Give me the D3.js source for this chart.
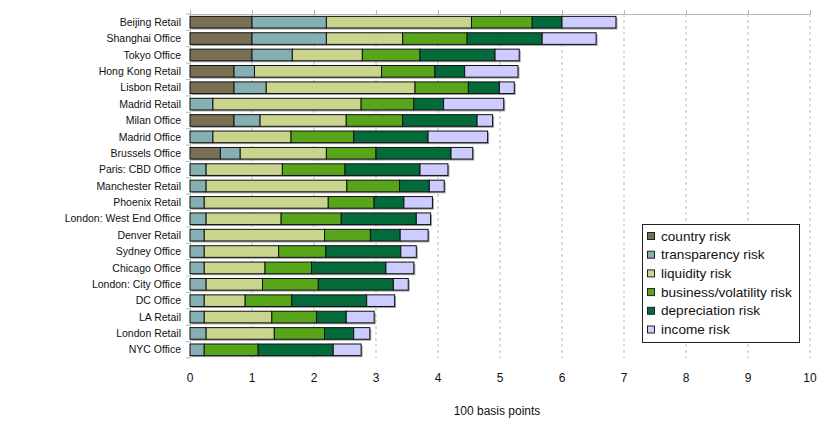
<!DOCTYPE html>
<html>
<head>
<meta charset="utf-8">
<script src="https://cdn.jsdelivr.net/npm/d3@7"></script>
<style>
  html, body { margin: 0; padding: 0; background: #fff; }
  svg { display: block; font-family: "Liberation Sans", Arial, sans-serif; }
</style>
</head>
<body>
<svg id="chart" width="819" height="424"></svg>
<script>
// Property markets, top to bottom
const markets = [
  "Beijing Retail", "Shanghai Office", "Tokyo Office", "Hong Kong Retail",
  "Lisbon Retail", "Madrid Retail", "Milan Office", "Madrid Office",
  "Brussels Office", "Paris: CBD Office", "Manchester Retail", "Phoenix Retail",
  "London: West End Office", "Denver Retail", "Sydney Office", "Chicago Office",
  "London: City Office", "DC Office", "LA Retail", "London Retail", "NYC Office"
];

// Risk components (in units of 100 basis points), one array per component
const countryRisk      = [1.00, 1.00, 1.00, 0.71, 0.71, 0.00, 0.71, 0.00, 0.49, 0.00, 0.00, 0.00, 0.00, 0.00, 0.00, 0.00, 0.00, 0.00, 0.00, 0.00, 0.00];
const transparencyRisk = [1.20, 1.20, 0.65, 0.33, 0.52, 0.37, 0.42, 0.37, 0.32, 0.26, 0.26, 0.23, 0.26, 0.23, 0.23, 0.23, 0.26, 0.23, 0.23, 0.26, 0.23];
const liquidityRisk    = [2.34, 1.23, 1.13, 2.05, 2.40, 2.39, 1.39, 1.26, 1.39, 1.23, 2.27, 2.00, 1.21, 1.94, 1.20, 0.98, 0.91, 0.66, 1.09, 1.10, 0.00];
const businessRisk     = [0.98, 1.04, 0.93, 0.86, 0.86, 0.85, 0.91, 1.01, 0.80, 1.01, 0.85, 0.74, 0.97, 0.74, 0.76, 0.75, 0.90, 0.75, 0.72, 0.81, 0.87];
const depreciationRisk = [0.48, 1.21, 1.21, 0.48, 0.50, 0.48, 1.20, 1.20, 1.21, 1.21, 0.48, 0.48, 1.21, 0.48, 1.21, 1.20, 1.21, 1.21, 0.48, 0.47, 1.21];
const incomeRisk       = [0.87, 0.87, 0.39, 0.86, 0.24, 0.97, 0.25, 0.96, 0.35, 0.45, 0.24, 0.46, 0.23, 0.45, 0.25, 0.45, 0.24, 0.45, 0.45, 0.26, 0.45];

const seriesNames = ["country risk", "transparency risk", "liquidity risk",
                     "business/volatility risk", "depreciation risk", "income risk"];
const seriesValues = [countryRisk, transparencyRisk, liquidityRisk,
                      businessRisk, depreciationRisk, incomeRisk];
const seriesColors = ["#787055", "#86afb3", "#c9d48d", "#58a51a", "#036a3c", "#ccccff"];

const xTicks = [0, 1, 2, 3, 4, 5, 6, 7, 8, 9, 10];
const xTitle = "100 basis points";

const margin = { top: 14, right: 9, bottom: 66, left: 190 };
const W = 819, H = 424;
const innerW = W - margin.left - margin.right;
const innerH = H - margin.top - margin.bottom;

const svg = d3.select("#chart");
const g = svg.append("g").attr("transform", `translate(${margin.left},${margin.top})`);

const x = d3.scaleLinear().domain([0, 10]).range([0, innerW]);
const y = d3.scaleBand().domain(markets).range([0, innerH]).paddingInner(0.29).paddingOuter(0.145);

// rows: one object per market with every component
const rows = markets.map((m, i) => {
  const r = { market: m };
  seriesNames.forEach((s, k) => { r[s] = seriesValues[k][i]; });
  return r;
});
const stacked = d3.stack().keys(seriesNames)(rows);

// dashed vertical gridlines
g.append("g").selectAll("line")
  .data(xTicks.filter(t => t > 0))
  .join("line")
  .attr("x1", d => x(d)).attr("x2", d => x(d))
  .attr("y1", 0).attr("y2", innerH)
  .attr("stroke", "#bdbdbd")
  .attr("stroke-width", 1)
  .attr("stroke-dasharray", "3,3");

// top axis line with small upward ticks
const axisColor = "#b8b8b8";
g.append("line").attr("x1", 0).attr("x2", innerW).attr("y1", 0.5).attr("y2", 0.5)
  .attr("stroke", axisColor);
g.append("g").selectAll("line").data(xTicks).join("line")
  .attr("x1", d => Math.round(x(d)) + 0.5).attr("x2", d => Math.round(x(d)) + 0.5)
  .attr("y1", -4).attr("y2", 0.5).attr("stroke", axisColor);

// left axis line with ticks at band boundaries
g.append("line").attr("x1", 0.5).attr("x2", 0.5).attr("y1", 0).attr("y2", innerH)
  .attr("stroke", axisColor);
const step = y.step();
g.append("g").selectAll("line").data(d3.range(markets.length + 1)).join("line")
  .attr("x1", -4).attr("x2", 0.5)
  .attr("y1", d => d * step).attr("y2", d => d * step)
  .attr("stroke", axisColor);

// bar shadows
g.append("g").selectAll("rect").data(rows).join("rect")
  .attr("x", 1.5)
  .attr("y", d => y(d.market) + 1.5)
  .attr("width", d => x(d3.sum(seriesNames, s => d[s])))
  .attr("height", y.bandwidth())
  .attr("fill", "#7a7a7a")
  .attr("opacity", 0.7);

// stacked segments
g.append("g").selectAll("g").data(stacked).join("g")
  .attr("fill", (d, i) => seriesColors[i])
  .selectAll("rect")
  .data(d => d.filter(p => p[1] - p[0] > 0))
  .join("rect")
  .attr("x", d => x(d[0]))
  .attr("y", d => y(d.data.market))
  .attr("width", d => x(d[1]) - x(d[0]))
  .attr("height", y.bandwidth())
  .attr("stroke", "#111")
  .attr("stroke-width", 1);

// category labels
g.append("g").selectAll("text").data(markets).join("text")
  .attr("x", -9)
  .attr("y", d => y(d) + y.bandwidth() / 2)
  .attr("dy", "0.35em")
  .attr("text-anchor", "end")
  .attr("font-size", "10.5px")
  .attr("fill", "#111")
  .text(d => d);

// x tick labels
g.append("g").selectAll("text").data(xTicks).join("text")
  .attr("x", d => x(d))
  .attr("y", innerH + 24)
  .attr("text-anchor", "middle")
  .attr("font-size", "12px")
  .attr("fill", "#111")
  .text(d => d);

// axis title
g.append("text")
  .attr("x", x(5) - 3)
  .attr("y", innerH + 57)
  .attr("text-anchor", "middle")
  .attr("font-size", "12px")
  .attr("fill", "#111")
  .text(xTitle);

// legend
const legend = svg.append("g").attr("transform", "translate(642,224)");
legend.append("rect").attr("x", 0.5).attr("y", 0.5).attr("width", 157).attr("height", 118)
  .attr("fill", "#fff").attr("stroke", "#222");
const items = legend.selectAll("g.item").data(seriesNames).join("g")
  .attr("class", "item")
  .attr("transform", (d, i) => `translate(5,${16 + i * 18.7})`);
items.append("rect").attr("x", 0.5).attr("y", -7.5).attr("width", 7).attr("height", 7)
  .attr("fill", (d, i) => seriesColors[i]).attr("stroke", "#222");
items.append("text").attr("x", 14).attr("y", 0).attr("dy", "0.05em")
  .attr("font-size", "13.6px").attr("fill", "#111").text(d => d);
</script>
</body>
</html>
